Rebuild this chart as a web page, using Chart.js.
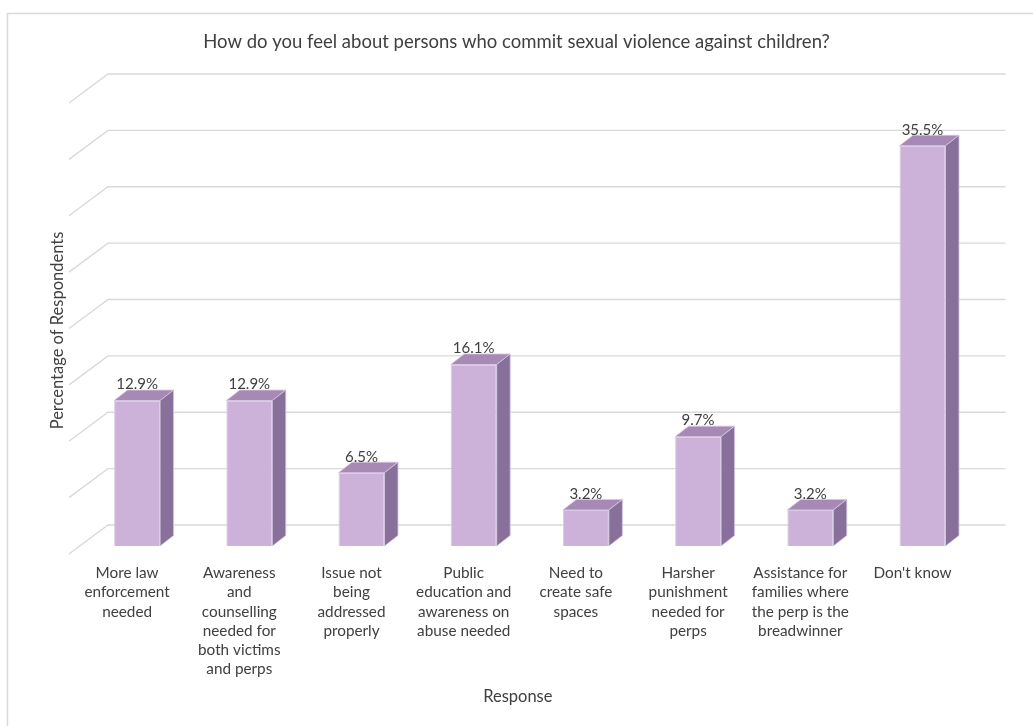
<!DOCTYPE html>
<html>
<head>
<meta charset="utf-8">
<script src="https://cdn.jsdelivr.net/npm/chart.js@4.4.1/dist/chart.umd.min.js"></script>
<style>
  html, body { margin: 0; padding: 0; background: #ffffff; overflow: hidden; }
  #wrap { width: 1033px; height: 726px; position: relative; }
</style>
</head>
<body>
<div id="wrap"><canvas id="c"></canvas></div>
<script>
// Response categories (wrapped the way they appear under each column)
const categories = [
  ["More law", "enforcement", "needed"],
  ["Awareness", "and", "counselling", "needed for", "both victims", "and perps"],
  ["Issue not", "being", "addressed", "properly"],
  ["Public", "education and", "awareness on", "abuse needed"],
  ["Need to", "create safe", "spaces"],
  ["Harsher", "punishment", "needed for", "perps"],
  ["Assistance for", "families where", "the perp is the", "breadwinner"],
  ["Don't know"]
];

// Share of respondents per response, in percent
const percentages = [12.9, 12.9, 6.5, 16.1, 3.2, 9.7, 3.2, 35.5];

// Levels of the back-wall gridlines (percent)
const gridLevels = [0, 5, 10, 15, 20, 25, 30, 35, 40];

const chartTitle = "How do you feel about persons who commit sexual violence against children?";
const yTitle = "Percentage of Respondents";
const xTitle = "Response";

const FONT = "Lato, 'Open Sans', sans-serif";
const TEXT = "#404040";
const GRID = "#d9d9d9";

// Depth of the columns and of the floor/back wall, in pixels
const BAR_DX = 13.5, BAR_DY = -10.5;
const WALL_DX = 27, WALL_DY = -21;
const FLOOR_DX = -12, FLOOR_DY = 8;

const pagePlugin = {
  id: 'page',
  beforeDraw(chart) {
    const ctx = chart.ctx;
    ctx.save();
    ctx.fillStyle = '#ffffff';
    ctx.fillRect(0, 0, chart.width, chart.height);
    ctx.strokeStyle = GRID;
    ctx.lineWidth = 1.5;
    ctx.beginPath();
    ctx.moveTo(chart.width, 13.5);
    ctx.lineTo(7.5, 13.5);
    ctx.lineTo(7.5, chart.height);
    ctx.stroke();
    ctx.restore();
  }
};

// Axis titles, placed relative to the plot including its depth
const axisTitlePlugin = {
  id: 'axisTitles',
  afterDraw(chart) {
    const ctx = chart.ctx;
    const area = chart.chartArea;
    ctx.save();
    ctx.fillStyle = TEXT;
    ctx.font = "16.5px " + FONT;
    ctx.textAlign = 'center';
    ctx.textBaseline = 'middle';
    ctx.fillText(xTitle, (area.left + area.right) / 2 - 12, chart.height - 29);
    ctx.translate(58, (area.top + area.bottom) / 2 + 10);
    ctx.rotate(-Math.PI / 2);
    ctx.fillText(yTitle, 0, 0);
    ctx.restore();
  }
};

const bar3dPlugin = {
  id: 'bar3d',
  beforeDatasetsDraw(chart) {
    const ctx = chart.ctx;
    const y = chart.scales.y;
    const area = chart.chartArea;
    ctx.save();
    ctx.strokeStyle = GRID;
    ctx.lineWidth = 1.3;
    gridLevels.forEach(v => {
      const py = y.getPixelForValue(v);
      ctx.beginPath();
      ctx.moveTo(area.left + FLOOR_DX, py + FLOOR_DY);
      ctx.lineTo(area.left + WALL_DX, py + WALL_DY);
      ctx.lineTo(area.right + WALL_DX, py + WALL_DY);
      ctx.stroke();
    });
    ctx.restore();
  },
  afterDatasetsDraw(chart) {
    const ctx = chart.ctx;
    const meta = chart.getDatasetMeta(0);
    ctx.save();
    meta.data.forEach((el, i) => {
      const { x, y, base, width } = el.getProps(['x', 'y', 'base', 'width'], true);
      const l = x - width / 2, r = x + width / 2;
      // top face
      ctx.beginPath();
      ctx.moveTo(l, y);
      ctx.lineTo(l + BAR_DX, y + BAR_DY);
      ctx.lineTo(r + BAR_DX, y + BAR_DY);
      ctx.lineTo(r, y);
      ctx.closePath();
      ctx.fillStyle = '#a68ab5';
      ctx.fill();
      ctx.strokeStyle = '#d8c6e2';
      ctx.lineWidth = 0.8;
      ctx.stroke();
      // side face
      ctx.beginPath();
      ctx.moveTo(r, y);
      ctx.lineTo(r + BAR_DX, y + BAR_DY);
      ctx.lineTo(r + BAR_DX, base + BAR_DY);
      ctx.lineTo(r, base);
      ctx.closePath();
      ctx.fillStyle = '#87719a';
      ctx.fill();
      ctx.stroke();
      // value label
      ctx.fillStyle = TEXT;
      ctx.font = "15px " + FONT;
      ctx.textAlign = 'center';
      ctx.textBaseline = 'middle';
      ctx.fillText(percentages[i].toFixed(1) + '%', x, y - 16);
    });
    ctx.restore();
  }
};

new Chart(document.getElementById('c'), {
  type: 'bar',
  data: {
    labels: categories,
    datasets: [{
      data: percentages,
      backgroundColor: '#ccb2d9',
      borderColor: '#dccbe6',
      borderWidth: 1,
      barPercentage: 0.41,
      categoryPercentage: 1.0
    }]
  },
  options: {
    responsive: true,
    maintainAspectRatio: false,
    devicePixelRatio: 1,
    animation: false,
    layout: { padding: 0 },
    plugins: {
      legend: { display: false },
      tooltip: { enabled: false },
      title: {
        display: true,
        text: chartTitle,
        color: TEXT,
        font: { family: FONT, size: 18.5, weight: 'normal', lineHeight: 1.2 },
        padding: { top: 31, bottom: 41.8 }
      }
    },
    scales: {
      x: {
        grid: { display: false, drawTicks: false },
        border: { display: false },
        ticks: {
          color: TEXT,
          font: { family: FONT, size: 15.3, lineHeight: 1.26 },
          padding: 17.4,
          labelOffset: -10,
          autoSkip: false,
          maxRotation: 0,
          minRotation: 0
        },
        afterFit(scale) { scale.height = 180; }
      },
      y: {
        min: 0,
        max: 40,
        grid: { display: false, drawTicks: false },
        border: { display: false },
        ticks: { display: false, stepSize: 5 },
        afterFit(scale) { scale.width = 81; }
      },
      // empty right-hand margin for the depth of the plot
      yRight: {
        position: 'right',
        min: 0,
        max: 40,
        grid: { display: false, drawTicks: false },
        border: { display: false },
        ticks: { display: false },
        afterFit(scale) { scale.width = 54.4; }
      }
    }
  },
  plugins: [pagePlugin, bar3dPlugin, axisTitlePlugin]
});
</script>
</body>
</html>
